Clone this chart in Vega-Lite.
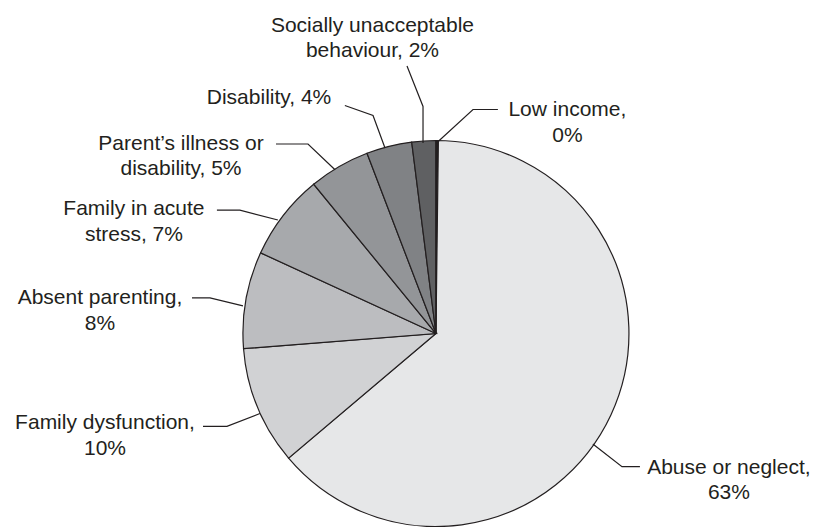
{
  "$schema": "https://vega.github.io/schema/vega-lite/v6.json",
  "width": 814,
  "height": 527,
  "autosize": {"type": "fit", "contains": "padding"},
  "padding": 0,
  "background": "white",
  "config": {"view": {"stroke": null}},
  "layer": [
    {
      "data": {
        "values": [
          {"category": "Abuse or neglect", "value": 63.7, "ord": 1, "cx": 0, "cy": 0},
          {"category": "Family dysfunction", "value": 9.9, "ord": 2, "cx": 0, "cy": 0},
          {"category": "Absent parenting", "value": 8.1, "ord": 3, "cx": 0, "cy": 0},
          {"category": "Family in acute stress", "value": 7.2, "ord": 4, "cx": 0, "cy": 0},
          {"category": "Parent’s illness or disability", "value": 5.1, "ord": 5, "cx": 0, "cy": 0},
          {"category": "Disability", "value": 3.8, "ord": 6, "cx": 0, "cy": 0},
          {"category": "Socially unacceptable behaviour", "value": 2.0, "ord": 7, "cx": 0, "cy": 0},
          {"category": "Low income", "value": 0.2, "ord": 8, "cx": 0, "cy": 0}
        ]
      },
      "transform": [
        {"stack": "value", "sort": [{"field": "ord", "order": "ascending"}], "groupby": [], "as": ["v0", "v1"]}
      ],
      "mark": {"type": "arc", "outerRadius": 193, "stroke": "#231f20", "strokeWidth": 1.2},
      "encoding": {
        "theta": {"field": "v0", "type": "quantitative", "stack": null},
        "theta2": {"field": "v1"},
        "x": {"field": "cx", "type": "quantitative", "axis": null, "scale": {"domain": [-225.9, 195.9], "nice": false, "zero": false}},
        "y": {"field": "cy", "type": "quantitative", "axis": null, "scale": {"domain": [-97.9, 175.1], "nice": false, "zero": false}},
        "color": {
          "field": "category",
          "type": "nominal",
          "legend": null,
          "scale": {
            "domain": ["Abuse or neglect", "Family dysfunction", "Absent parenting", "Family in acute stress", "Parent’s illness or disability", "Disability", "Socially unacceptable behaviour", "Low income"],
            "range": ["#e6e7e8", "#d1d2d4", "#bcbdc0", "#a7a9ac", "#939598", "#808285", "#5f6062", "#231f20"]
          }
        }
      }
    },
    {
      "data": {
        "values": [
          {"id": "social", "i": 1, "x": -15.0, "y": 140.4},
          {"id": "social", "i": 2, "x": -6.7, "y": 119.2},
          {"id": "social", "i": 3, "x": -6.7, "y": 100.0},
          {"id": "low", "i": 1, "x": 0.3, "y": 100.0},
          {"id": "low", "i": 2, "x": 19.2, "y": 117.6},
          {"id": "low", "i": 3, "x": 32.1, "y": 117.6},
          {"id": "disab", "i": 1, "x": -47.2, "y": 119.7},
          {"id": "disab", "i": 2, "x": -32.6, "y": 114.5},
          {"id": "disab", "i": 3, "x": -26.4, "y": 97.4},
          {"id": "parent", "i": 1, "x": -82.9, "y": 99.5},
          {"id": "parent", "i": 2, "x": -66.3, "y": 99.5},
          {"id": "parent", "i": 3, "x": -52.3, "y": 86.0},
          {"id": "acute", "i": 1, "x": -113.5, "y": 64.8},
          {"id": "acute", "i": 2, "x": -101.6, "y": 64.8},
          {"id": "acute", "i": 3, "x": -81.9, "y": 59.6},
          {"id": "absent", "i": 1, "x": -126.4, "y": 18.7},
          {"id": "absent", "i": 2, "x": -117.1, "y": 18.7},
          {"id": "absent", "i": 3, "x": -100.0, "y": 14.5},
          {"id": "famdys", "i": 1, "x": -120.7, "y": -48.7},
          {"id": "famdys", "i": 2, "x": -108.3, "y": -48.7},
          {"id": "famdys", "i": 3, "x": -91.2, "y": -42.0},
          {"id": "abuse", "i": 1, "x": 105.7, "y": -69.9},
          {"id": "abuse", "i": 2, "x": 96.4, "y": -69.9},
          {"id": "abuse", "i": 3, "x": 81.3, "y": -58.0}
        ]
      },
      "mark": {"type": "line", "color": "#231f20", "strokeWidth": 1.2},
      "encoding": {
        "x": {"field": "x", "type": "quantitative", "axis": null, "scale": {"domain": [-225.9, 195.9], "nice": false, "zero": false}},
        "y": {"field": "y", "type": "quantitative", "axis": null, "scale": {"domain": [-97.9, 175.1], "nice": false, "zero": false}},
        "detail": {"field": "id", "type": "nominal"},
        "order": {"field": "i", "type": "quantitative"}
      }
    },
    {
      "data": {
        "values": [
          {"label": "Socially unacceptable\nbehaviour, 2%", "x": -32.9, "y": 158.5},
          {"label": "Low income,\n0%", "x": 68.1, "y": 114.0},
          {"label": "Disability, 4%", "x": -86.5, "y": 120.7},
          {"label": "Parent’s illness or\ndisability, 5%", "x": -132.1, "y": 96.4},
          {"label": "Family in acute\nstress, 7%", "x": -156.5, "y": 62.2},
          {"label": "Absent parenting,\n8%", "x": -174.1, "y": 15.5},
          {"label": "Family dysfunction,\n10%", "x": -171.5, "y": -50.3},
          {"label": "Abuse or neglect,\n63%", "x": 151.8, "y": -73.6}
        ]
      },
      "mark": {"type": "text", "lineBreak": "\n", "align": "center", "baseline": "alphabetic", "font": "Liberation Sans", "fontSize": 21, "lineHeight": 25.5, "color": "#231f20"},
      "encoding": {
        "x": {"field": "x", "type": "quantitative", "axis": null, "scale": {"domain": [-225.9, 195.9], "nice": false, "zero": false}},
        "y": {"field": "y", "type": "quantitative", "axis": null, "scale": {"domain": [-97.9, 175.1], "nice": false, "zero": false}},
        "text": {"field": "label"}
      }
    }
  ]
}
